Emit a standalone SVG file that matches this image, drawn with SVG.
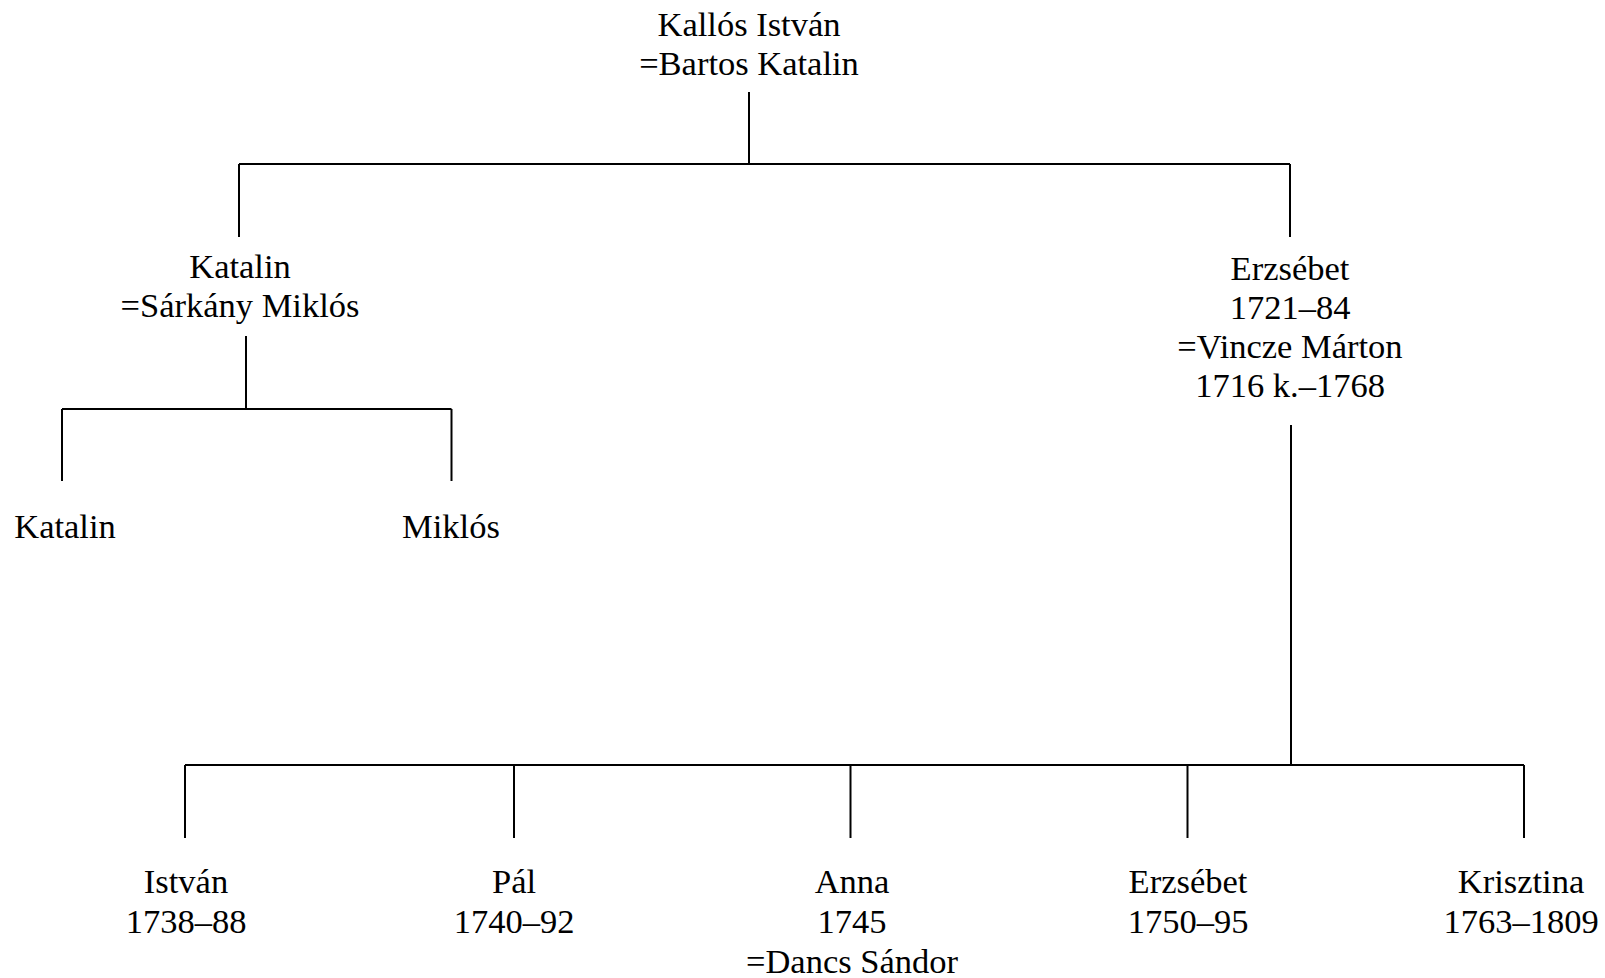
<svg xmlns="http://www.w3.org/2000/svg" width="1605" height="978" viewBox="0 0 1605 978">
<style>
text{font-family:"Liberation Serif","Times New Roman",serif;font-size:34.5px;fill:#000;text-anchor:middle}
.c line{stroke:#000;stroke-width:2;fill:none}
</style>
<rect width="1605" height="978" fill="#fff"/>
<g class="c" id="connectors">
<line x1="749" y1="92" x2="749" y2="164"/>
<line x1="239" y1="164" x2="1290" y2="164"/>
<line x1="239" y1="164" x2="239" y2="237"/>
<line x1="1290" y1="164" x2="1290" y2="237"/>
<line x1="246" y1="336" x2="246" y2="409"/>
<line x1="62" y1="409" x2="451.5" y2="409"/>
<line x1="62" y1="409" x2="62" y2="481"/>
<line x1="451.5" y1="409" x2="451.5" y2="481"/>
<line x1="1291" y1="425" x2="1291" y2="765"/>
<line x1="185" y1="765" x2="1524" y2="765"/>
<line x1="185" y1="765" x2="185" y2="838"/>
<line x1="514" y1="765" x2="514" y2="838"/>
<line x1="850.5" y1="765" x2="850.5" y2="838"/>
<line x1="1187.5" y1="765" x2="1187.5" y2="838"/>
<line x1="1524" y1="765" x2="1524" y2="838"/>
</g>
<g id="n_kallos"><text x="749" y="36">Kallós István</text><text x="749" y="75">=Bartos Katalin</text></g>
<g id="n_katalin"><text x="240" y="278">Katalin</text><text x="240" y="317">=Sárkány Miklós</text></g>
<g id="n_erzsebet"><text x="1290" y="280">Erzsébet</text><text x="1290" y="319">1721–84</text><text x="1290" y="358">=Vincze Márton</text><text x="1290" y="397">1716 k.–1768</text></g>
<g id="n_katalin2"><text x="65" y="538">Katalin</text></g>
<g id="n_miklos"><text x="451" y="538">Miklós</text></g>
<g id="n_istvan"><text x="186" y="893">István</text><text x="186" y="933">1738–88</text></g>
<g id="n_pal"><text x="514" y="893">Pál</text><text x="514" y="933">1740–92</text></g>
<g id="n_anna"><text x="852" y="893">Anna</text><text x="852" y="933">1745</text><text x="852" y="973">=Dancs Sándor</text></g>
<g id="n_erzsebet2"><text x="1188" y="893">Erzsébet</text><text x="1188" y="933">1750–95</text></g>
<g id="n_krisztina"><text x="1521" y="893">Krisztina</text><text x="1521" y="933">1763–1809</text></g>
</svg>
